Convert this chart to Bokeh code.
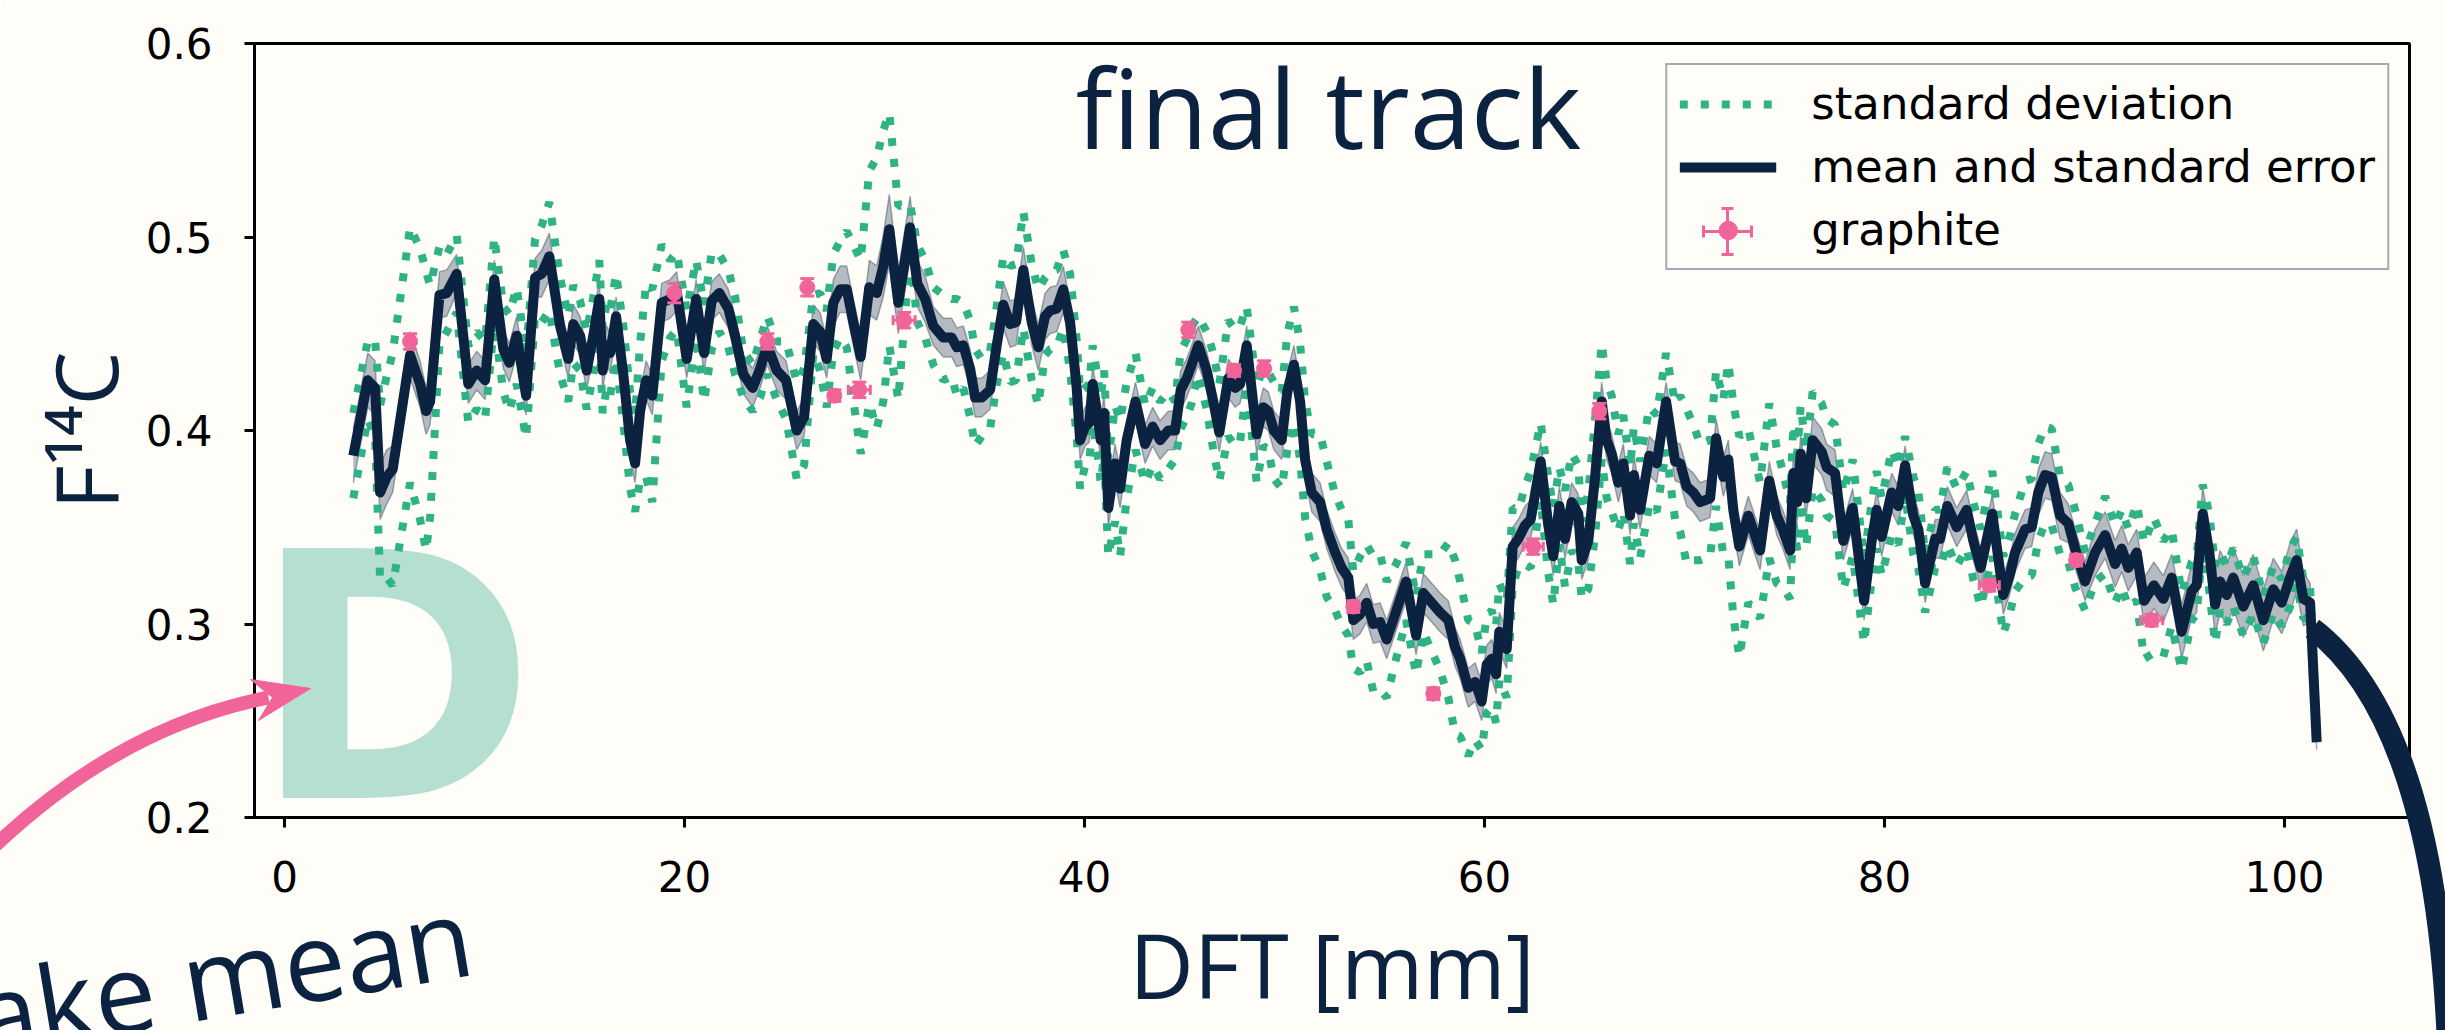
import math
from bokeh.plotting import figure
from bokeh.models import (Range1d, Legend, LegendItem, Whisker, TeeHead,
                          ColumnDataSource, Label)
from bokeh.embed import file_html
from bokeh.resources import INLINE
from bokeh.core.properties import value

# ---------------- colours ----------------
NAVY = "#0b2341"
GREEN = "#2fb386"
PINK = "#f0649a"
DLETTER = "#b5e0d1"
BG = "#fffdf7"

# ---------------- data: DFT position [mm] ----------------
dft = [
    3.44, 4.16, 4.53, 4.78, 5.11, 5.41, 6.28, 6.78, 7.08, 7.28,
    7.75, 8.11, 8.61, 9.19, 9.61, 10.03, 10.49, 10.94, 11.24, 11.61,
    12.08, 12.53, 12.86, 13.24, 13.78, 14.19, 14.44, 14.78, 15.11, 15.44,
    15.74, 15.91, 16.11, 16.28, 16.58, 16.94, 17.28, 17.53, 17.78, 18.08,
    18.39, 18.86, 19.28, 19.61, 20.11, 20.58, 20.98, 21.36, 21.74, 22.19,
    22.53, 22.94, 23.41, 23.78, 24.14, 24.61, 25.08, 25.61, 25.98, 26.44,
    26.78, 27.11, 27.44, 27.78, 28.11, 28.44, 28.81, 29.24, 29.61, 29.94,
    30.24, 30.69, 31.28, 31.64, 32.03, 32.44, 32.94, 33.36, 33.61, 33.94,
    34.28, 34.53, 34.86, 35.28, 35.61, 35.94, 36.28, 36.58, 36.94, 37.36,
    37.69, 38.03, 38.28, 38.61, 38.94, 39.28, 39.61, 39.78, 40.03, 40.24,
    40.41, 40.69, 40.81, 40.98, 41.19, 41.53, 41.78, 42.11, 42.55, 43.03,
    43.41, 43.78, 44.19, 44.53, 44.81, 45.11, 45.36, 45.69, 46.11, 46.44,
    46.74, 47.19, 47.53, 47.78, 48.11, 48.61, 48.94, 49.19, 49.47, 49.86,
    50.14, 50.47, 50.78, 51.03, 51.36, 51.78, 52.11, 52.53, 52.86, 53.19,
    53.44, 53.78, 54.11, 54.44, 54.78, 55.11, 55.53, 56.08, 56.58, 56.94,
    57.36, 57.78, 58.19, 58.53, 58.78, 59.19, 59.53, 59.86, 60.11, 60.36,
    60.58, 60.74, 61.11, 61.41, 61.69, 62.03, 62.31, 62.81, 63.19, 63.44,
    63.74, 64.03, 64.36, 64.69, 64.86, 65.19, 65.53, 65.86, 66.11, 66.36,
    66.69, 66.94, 67.28, 67.47, 67.78, 68.24, 68.61, 69.08, 69.53, 69.78,
    70.11, 70.44, 70.78, 71.28, 71.58, 71.94, 72.19, 72.44, 72.74, 73.19,
    73.78, 74.24, 74.61, 74.91, 75.28, 75.44, 75.64, 75.81, 76.08, 76.41,
    76.86, 77.11, 77.53, 77.94, 78.41, 78.98, 79.36, 79.61, 79.86, 80.36,
    80.69, 81.03, 81.44, 81.69, 82.03, 82.53, 82.78, 83.14, 83.61, 84.11,
    84.44, 84.81, 85.39, 85.94, 86.28, 86.53, 87.03, 87.36, 87.69, 88.03,
    88.36, 88.78, 89.19, 89.53, 90.03, 90.53, 91.03, 91.53, 91.86, 92.19,
    92.61, 92.98, 93.47, 93.94, 94.36, 94.86, 95.36, 95.61, 95.91, 96.24,
    96.53, 96.78, 97.11, 97.44, 97.94, 98.44, 98.94, 99.44, 99.86, 100.28,
    100.61, 100.94, 101.28, 101.61,
]

# mean F14C of the final track
mean_f14c = [
    0.387, 0.426, 0.422, 0.368, 0.376, 0.380, 0.439, 0.424, 0.410, 0.415,
    0.470, 0.471, 0.481, 0.424, 0.431, 0.426, 0.478, 0.442, 0.435, 0.449,
    0.418, 0.479, 0.481, 0.490, 0.454, 0.437, 0.455, 0.449, 0.431, 0.449,
    0.468, 0.431, 0.444, 0.440, 0.459, 0.429, 0.395, 0.383, 0.410, 0.426,
    0.418, 0.466, 0.468, 0.472, 0.437, 0.468, 0.440, 0.467, 0.471, 0.463,
    0.449, 0.429, 0.422, 0.432, 0.444, 0.431, 0.426, 0.400, 0.407, 0.455,
    0.451, 0.437, 0.466, 0.473, 0.473, 0.456, 0.438, 0.474, 0.471, 0.485,
    0.504, 0.466, 0.505, 0.476, 0.468, 0.454, 0.448, 0.448, 0.443, 0.444,
    0.432, 0.417, 0.417, 0.421, 0.444, 0.465, 0.455, 0.456, 0.483, 0.456,
    0.443, 0.459, 0.462, 0.463, 0.473, 0.456, 0.422, 0.395, 0.402, 0.404,
    0.424, 0.405, 0.395, 0.409, 0.360, 0.383, 0.370, 0.395, 0.415, 0.393,
    0.402, 0.395, 0.400, 0.400, 0.421, 0.427, 0.434, 0.444, 0.431, 0.415,
    0.399, 0.427, 0.422, 0.424, 0.444, 0.398, 0.412, 0.410, 0.400, 0.395,
    0.420, 0.434, 0.415, 0.385, 0.368, 0.363, 0.349, 0.337, 0.329, 0.324,
    0.302, 0.305, 0.311, 0.300, 0.301, 0.292, 0.305, 0.322, 0.294, 0.316,
    0.311, 0.306, 0.302, 0.288, 0.282, 0.267, 0.270, 0.260, 0.279, 0.282,
    0.274, 0.296, 0.287, 0.340, 0.344, 0.351, 0.354, 0.384, 0.351, 0.335,
    0.361, 0.344, 0.363, 0.357, 0.333, 0.343, 0.376, 0.415, 0.395, 0.388,
    0.373, 0.383, 0.356, 0.377, 0.359, 0.387, 0.383, 0.415, 0.384, 0.383,
    0.371, 0.368, 0.363, 0.365, 0.396, 0.376, 0.385, 0.359, 0.340, 0.356,
    0.338, 0.374, 0.356, 0.349, 0.338, 0.378, 0.363, 0.388, 0.365, 0.395,
    0.389, 0.381, 0.378, 0.343, 0.360, 0.312, 0.343, 0.359, 0.345, 0.368,
    0.361, 0.382, 0.356, 0.349, 0.321, 0.344, 0.344, 0.361, 0.350, 0.359,
    0.343, 0.329, 0.357, 0.315, 0.326, 0.337, 0.349, 0.350, 0.368, 0.377,
    0.376, 0.356, 0.352, 0.339, 0.322, 0.337, 0.346, 0.331, 0.339, 0.329,
    0.337, 0.312, 0.320, 0.313, 0.324, 0.296, 0.317, 0.320, 0.357, 0.337,
    0.310, 0.322, 0.315, 0.324, 0.309, 0.320, 0.302, 0.318, 0.311, 0.324,
    0.333, 0.313, 0.311, 0.239,
]

# standard deviation
std_dev = [
    0.022, 0.020, 0.025, 0.045, 0.052, 0.060, 0.066, 0.070, 0.072, 0.060,
    0.025, 0.020, 0.020, 0.020, 0.020, 0.020, 0.022, 0.022, 0.025, 0.025,
    0.022, 0.020, 0.025, 0.028, 0.025, 0.022, 0.020, 0.018, 0.020, 0.020,
    0.020, 0.022, 0.022, 0.022, 0.022, 0.025, 0.025, 0.025, 0.035, 0.050,
    0.055, 0.030, 0.020, 0.020, 0.025, 0.020, 0.025, 0.025, 0.020, 0.020,
    0.020, 0.012, 0.012, 0.015, 0.015, 0.015, 0.020, 0.025, 0.025, 0.015,
    0.020, 0.025, 0.025, 0.025, 0.030, 0.040, 0.050, 0.060, 0.070, 0.070,
    0.060, 0.050, 0.012, 0.020, 0.020, 0.020, 0.022, 0.020, 0.025, 0.022,
    0.025, 0.025, 0.020, 0.020, 0.020, 0.025, 0.030, 0.030, 0.030, 0.030,
    0.030, 0.020, 0.020, 0.020, 0.020, 0.025, 0.025, 0.025, 0.020, 0.020,
    0.020, 0.020, 0.022, 0.022, 0.025, 0.030, 0.035, 0.030, 0.025, 0.020,
    0.020, 0.020, 0.020, 0.015, 0.020, 0.020, 0.020, 0.015, 0.020, 0.025,
    0.025, 0.030, 0.030, 0.030, 0.020, 0.025, 0.020, 0.020, 0.025, 0.025,
    0.030, 0.030, 0.030, 0.030, 0.030, 0.035, 0.035, 0.030, 0.030, 0.030,
    0.025, 0.030, 0.030, 0.035, 0.035, 0.030, 0.025, 0.020, 0.020, 0.020,
    0.025, 0.030, 0.040, 0.045, 0.040, 0.035, 0.030, 0.025, 0.025, 0.025,
    0.025, 0.025, 0.025, 0.020, 0.015, 0.020, 0.025, 0.020, 0.025, 0.025,
    0.020, 0.025, 0.025, 0.025, 0.020, 0.025, 0.030, 0.030, 0.030, 0.030,
    0.025, 0.025, 0.025, 0.025, 0.025, 0.025, 0.025, 0.025, 0.030, 0.035,
    0.040, 0.035, 0.030, 0.030, 0.035, 0.040, 0.050, 0.055, 0.057, 0.045,
    0.035, 0.040, 0.035, 0.030, 0.025, 0.025, 0.025, 0.025, 0.025, 0.025,
    0.025, 0.025, 0.025, 0.025, 0.025, 0.022, 0.020, 0.020, 0.020, 0.022,
    0.020, 0.015, 0.020, 0.020, 0.015, 0.015, 0.015, 0.020, 0.020, 0.020,
    0.020, 0.020, 0.022, 0.020, 0.020, 0.020, 0.025, 0.025, 0.025, 0.025,
    0.025, 0.020, 0.020, 0.020, 0.015, 0.015, 0.020, 0.020, 0.020, 0.020,
    0.025, 0.030, 0.035, 0.030, 0.025, 0.020, 0.015, 0.015, 0.015, 0.020,
    0.020, 0.015, 0.015, 0.015, 0.015, 0.015, 0.012, 0.012, 0.012, 0.015,
    0.012, 0.010, 0.008, 0.006,
]

# standard error
std_err = [
    0.014, 0.014, 0.014, 0.014, 0.014, 0.012, 0.012, 0.012, 0.012, 0.012,
    0.012, 0.012, 0.010, 0.010, 0.010, 0.010, 0.010, 0.010, 0.010, 0.010,
    0.010, 0.010, 0.012, 0.012, 0.010, 0.010, 0.010, 0.010, 0.010, 0.010,
    0.010, 0.010, 0.010, 0.010, 0.010, 0.010, 0.010, 0.010, 0.010, 0.010,
    0.010, 0.010, 0.010, 0.010, 0.010, 0.010, 0.010, 0.010, 0.010, 0.010,
    0.010, 0.010, 0.010, 0.010, 0.010, 0.010, 0.010, 0.010, 0.010, 0.010,
    0.010, 0.010, 0.012, 0.012, 0.012, 0.012, 0.012, 0.014, 0.014, 0.016,
    0.018, 0.016, 0.016, 0.012, 0.012, 0.010, 0.010, 0.010, 0.010, 0.010,
    0.010, 0.010, 0.010, 0.010, 0.010, 0.012, 0.012, 0.012, 0.012, 0.012,
    0.012, 0.012, 0.012, 0.012, 0.012, 0.010, 0.010, 0.010, 0.010, 0.010,
    0.010, 0.010, 0.010, 0.010, 0.010, 0.010, 0.010, 0.010, 0.010, 0.010,
    0.010, 0.010, 0.010, 0.010, 0.010, 0.010, 0.010, 0.010, 0.010, 0.010,
    0.010, 0.010, 0.010, 0.010, 0.010, 0.010, 0.010, 0.010, 0.010, 0.010,
    0.010, 0.010, 0.010, 0.010, 0.010, 0.010, 0.010, 0.010, 0.010, 0.010,
    0.010, 0.010, 0.010, 0.010, 0.010, 0.010, 0.010, 0.010, 0.010, 0.010,
    0.010, 0.010, 0.010, 0.010, 0.010, 0.010, 0.010, 0.010, 0.010, 0.010,
    0.010, 0.010, 0.010, 0.010, 0.010, 0.010, 0.010, 0.010, 0.010, 0.010,
    0.010, 0.010, 0.010, 0.010, 0.010, 0.010, 0.010, 0.010, 0.010, 0.010,
    0.010, 0.010, 0.010, 0.010, 0.010, 0.010, 0.010, 0.010, 0.010, 0.010,
    0.010, 0.010, 0.010, 0.010, 0.010, 0.010, 0.010, 0.010, 0.010, 0.010,
    0.010, 0.010, 0.010, 0.010, 0.010, 0.010, 0.010, 0.010, 0.010, 0.012,
    0.012, 0.012, 0.012, 0.010, 0.010, 0.010, 0.010, 0.010, 0.010, 0.010,
    0.010, 0.010, 0.010, 0.010, 0.010, 0.010, 0.010, 0.010, 0.010, 0.010,
    0.010, 0.010, 0.010, 0.010, 0.010, 0.010, 0.010, 0.010, 0.012, 0.012,
    0.012, 0.012, 0.010, 0.010, 0.010, 0.012, 0.012, 0.012, 0.012, 0.012,
    0.012, 0.012, 0.012, 0.012, 0.012, 0.014, 0.014, 0.014, 0.014, 0.014,
    0.016, 0.016, 0.016, 0.016, 0.016, 0.016, 0.016, 0.016, 0.016, 0.018,
    0.016, 0.014, 0.010, 0.004,
]

# graphite reference measurements
graphite_dft = [6.28, 19.49, 24.14, 26.14, 27.49, 28.74, 30.98, 45.19, 47.48,
                48.98, 53.44, 57.44, 62.44, 65.74, 85.24, 89.58, 93.36]
graphite_f14c = [0.446, 0.471, 0.446, 0.474, 0.418, 0.421, 0.457, 0.452, 0.431,
                 0.432, 0.309, 0.264, 0.340, 0.410, 0.320, 0.333, 0.302]
graphite_dft_err = [0.2, 0.2, 0.2, 0.2, 0.2, 0.55, 0.55, 0.2, 0.2,
                    0.2, 0.2, 0.2, 0.5, 0.2, 0.5, 0.2, 0.55]
graphite_f14c_err = [0.004, 0.005, 0.004, 0.0045, 0.003, 0.004, 0.004, 0.004, 0.003,
                     0.004, 0.003, 0.003, 0.004, 0.004, 0.003, 0.003, 0.003]

x_ticks = [0, 20, 40, 60, 80, 100]
y_ticks = [0.2, 0.3, 0.4, 0.5, 0.6]

n = len(dft)
assert len(mean_f14c) == n and len(std_dev) == n and len(std_err) == n, \
    (n, len(mean_f14c), len(std_dev), len(std_err))

# ---------------- geometry (canvas pixels) ----------------
W, H = 2445, 1030
FL, FR, FT, FB = 254, 2409, 43, 817
X_LO, X_HI = -1.5, 106.25
Y_LO, Y_HI = 0.2, 0.6


def dx(px):
    return X_LO + (px - FL) * (X_HI - X_LO) / (FR - FL)


def dy(py):
    return Y_LO + (FB - py) * (Y_HI - Y_LO) / (FB - FT)


p = figure(width=W, height=H, x_range=Range1d(X_LO, X_HI), y_range=Range1d(Y_LO, Y_HI),
           output_backend="svg", toolbar_location=None,
           min_border_left=FL, min_border_right=W - FR,
           min_border_top=FT, min_border_bottom=H - FB,
           background_fill_color=BG, border_fill_color=BG)
p.outline_line_color = "black"
p.outline_line_width = 3
p.grid.visible = False

for ax in (p.xaxis[0], p.yaxis[0]):
    ax.axis_line_width = 3
    ax.axis_line_color = "black"
    ax.major_tick_out = 10
    ax.major_tick_in = 0
    ax.major_tick_line_width = 3
    ax.minor_tick_out = 0
    ax.minor_tick_in = 0
    ax.major_label_text_font = "DejaVu Sans"
    ax.major_label_text_font_size = "42px"
    ax.major_label_text_color = "black"
    ax.axis_label_text_font = "Open Sans"
    ax.axis_label_text_font_style = "normal"
    ax.axis_label_text_color = NAVY

p.xaxis.axis_label_text_font_size = "89px"
p.yaxis.axis_label_text_font_size = "86px"
p.xaxis.ticker = x_ticks
p.yaxis.ticker = y_ticks
p.xaxis.axis_label = "DFT [mm]"
p.yaxis.axis_label = "F\u00b9\u2074C"
p.xaxis.major_label_standoff = 33
p.yaxis.major_label_standoff = 32
p.xaxis.axis_label_standoff = 9
p.yaxis.axis_label_standoff = 0

# big panel letter (behind the data)
p.text(x=[dx(251)], y=[dy(679)], text=["D"], text_font=value("DejaVu Sans"),
       text_font_style="bold", text_font_size="343px", text_color=DLETTER,
       text_align="left", text_baseline="alphabetic")

src = ColumnDataSource(dict(
    x=dft, m=mean_f14c,
    sd_hi=[m + s for m, s in zip(mean_f14c, std_dev)],
    sd_lo=[m - s for m, s in zip(mean_f14c, std_dev)],
    se_hi=[m + s for m, s in zip(mean_f14c, std_err)],
    se_lo=[m - s for m, s in zip(mean_f14c, std_err)],
))

p.varea(x="x", y1="se_lo", y2="se_hi", source=src, fill_color=NAVY, fill_alpha=0.3)
p.line(x="x", y="se_hi", source=src, line_color=NAVY, line_alpha=0.35, line_width=1.5)
p.line(x="x", y="se_lo", source=src, line_color=NAVY, line_alpha=0.35, line_width=1.5)

r_sd_hi = p.line(x="x", y="sd_hi", source=src, line_color=GREEN, line_width=8,
                 line_dash="8 13", line_cap="butt")
p.line(x="x", y="sd_lo", source=src, line_color=GREEN, line_width=8,
       line_dash="8 13", line_cap="butt")

r_mean = p.line(x="x", y="m", source=src, line_color=NAVY, line_width=10,
                line_join="round", line_cap="butt")

gsrc = ColumnDataSource(dict(
    x=graphite_dft, y=graphite_f14c,
    xlo=[x - e for x, e in zip(graphite_dft, graphite_dft_err)],
    xhi=[x + e for x, e in zip(graphite_dft, graphite_dft_err)],
    ylo=[y - e for y, e in zip(graphite_f14c, graphite_f14c_err)],
    yhi=[y + e for y, e in zip(graphite_f14c, graphite_f14c_err)],
))
wy = Whisker(source=gsrc, base="x", lower="ylo", upper="yhi", dimension="height",
             line_color=PINK, line_width=3, level="glyph",
             upper_head=TeeHead(size=14, line_color=PINK, line_width=3),
             lower_head=TeeHead(size=14, line_color=PINK, line_width=3))
wx = Whisker(source=gsrc, base="y", lower="xlo", upper="xhi", dimension="width",
             line_color=PINK, line_width=3, level="glyph",
             upper_head=TeeHead(size=10, line_color=PINK, line_width=3),
             lower_head=TeeHead(size=10, line_color=PINK, line_width=3))
p.add_layout(wy)
p.add_layout(wx)
r_gpts = p.scatter(x="x", y="y", source=gsrc, marker="circle", size=15,
                   fill_color=PINK, line_color=PINK)

# error-bar cross of the "graphite" legend handle (legend box is transparent)
LGX, LGY = 1727, 231
p.segment(x0=[dx(LGX - 24), dx(LGX)], y0=[dy(LGY), dy(LGY - 23)],
          x1=[dx(LGX + 24), dx(LGX)], y1=[dy(LGY), dy(LGY + 23)],
          line_color=PINK, line_width=3)
p.segment(x0=[dx(LGX - 24), dx(LGX + 24), dx(LGX - 6), dx(LGX - 6)],
          y0=[dy(LGY - 6), dy(LGY - 6), dy(LGY - 23), dy(LGY + 23)],
          x1=[dx(LGX - 24), dx(LGX + 24), dx(LGX + 6), dx(LGX + 6)],
          y1=[dy(LGY + 6), dy(LGY + 6), dy(LGY - 23), dy(LGY + 23)],
          line_color=PINK, line_width=3)

legend = Legend(items=[
    LegendItem(label="standard deviation", renderers=[r_sd_hi]),
    LegendItem(label="mean and standard error", renderers=[r_mean]),
    LegendItem(label="graphite", renderers=[r_gpts]),
], location="top_right", margin=20)
legend.label_text_font = "DejaVu Sans"
legend.label_text_font_size = "45px"
legend.label_text_color = "black"
legend.glyph_width = 97
legend.glyph_height = 46
legend.label_height = 46
legend.label_standoff = 35
legend.spacing = 10
legend.padding = 12
legend.border_line_color = "#4a5a72"
legend.border_line_width = 2
legend.background_fill_color = BG
legend.background_fill_alpha = 0.0
p.add_layout(legend)

# title inside the axes
p.add_layout(Label(x=dx(1328), y=dy(105), text="final track", text_align="center",
                   text_baseline="alphabetic", text_font="Open Sans",
                   text_font_size="110px", text_color=NAVY))

# ---------------- poster decorations around the panel ----------------
# pink arrow pointing at the panel letter
p.quadratic(x0=[dx(-40)], y0=[dy(880)], x1=[dx(268)], y1=[dy(697)],
            cx=[dx(100)], cy=[dy(730)], line_color=PINK, line_width=14, level="overlay")
p.patch(x=[dx(310), dx(250), dx(272), dx(258)], y=[dy(688), dy(679), dy(697), dy(720)],
        fill_color=PINK, line_color=PINK, level="overlay")

# "make mean" caption (partly outside the picture)
p.text(x=[dx(-125)], y=[dy(1031)], text=["make mean"], angle=0.166,
       text_align="left", text_baseline="alphabetic", text_font=value("Open Sans"),
       text_font_size="110px", text_color=NAVY, level="overlay")

# navy flow line leaving the panel on the right
p.bezier(x0=[dx(2312)], y0=[dy(628)], x1=[dx(2448)], y1=[dy(1060)],
         cx0=[dx(2380)], cy0=[dy(680)], cx1=[dx(2440)], cy1=[dy(800)],
         line_color=NAVY, line_width=22, level="overlay")

open("out.html", "w").write(file_html(p, INLINE))
